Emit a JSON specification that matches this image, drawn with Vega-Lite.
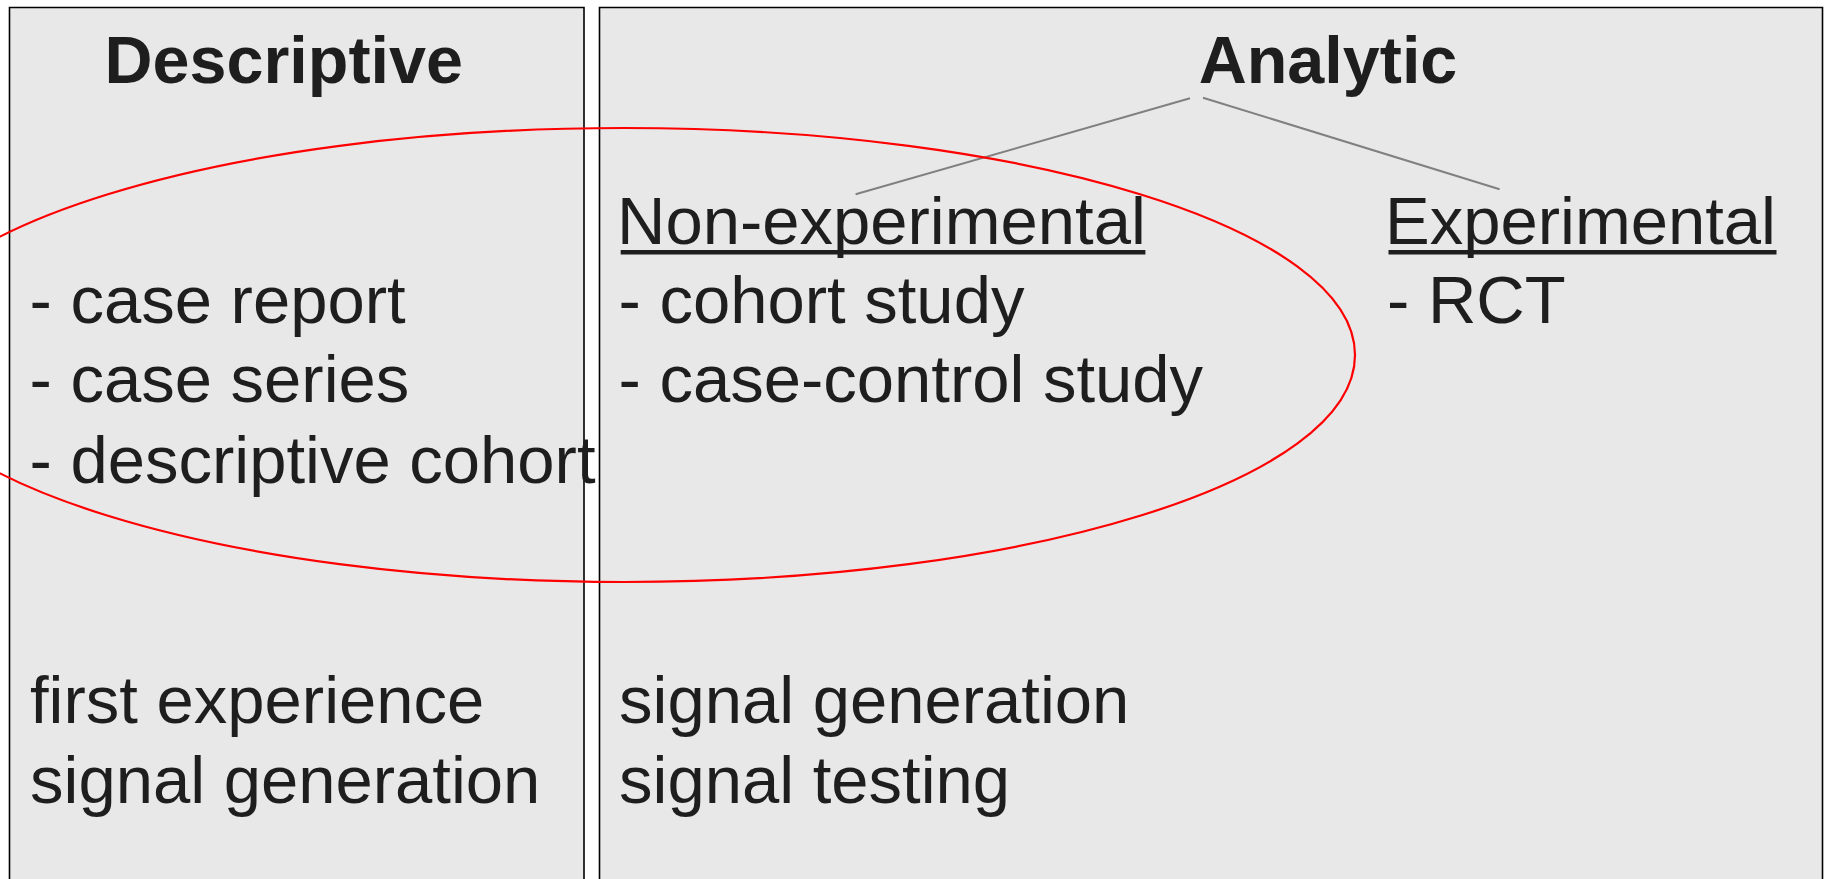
{
  "$schema": "https://vega.github.io/schema/vega-lite/v6.json",
  "width": 1833,
  "height": 879,
  "autosize": {"type": "none"},
  "padding": 0,
  "background": "white",
  "config": {"view": {"stroke": null}},
  "datasets": {
    "boxes": [
      {"x": 9.5, "x2": 584, "y": 7.5, "y2": 895},
      {"x": 599.5, "x2": 1822.5, "y": 7.5, "y2": 895}
    ],
    "ellipse": [{"x": 624, "y": 355}],
    "links": [
      {"x": 1190, "y": 98.3, "x2": 855.6, "y2": 194.3},
      {"x": 1203, "y": 97.7, "x2": 1499.6, "y2": 189.3}
    ],
    "underlines": [
      {"x": 620.7, "x2": 1145.4, "y": 252.3, "y2": 252.3},
      {"x": 1388.5, "x2": 1776.5, "y": 252.3, "y2": 252.3}
    ],
    "titles": [
      {"x": 283.7, "y": 83.3, "text": "Descriptive"},
      {"x": 1328, "y": 83.3, "text": "Analytic"}
    ],
    "labels": [
      {"x": 29.5, "y": 322.5, "text": "- case report"},
      {"x": 29.5, "y": 402, "text": "- case series"},
      {"x": 29.5, "y": 482.5, "text": "- descriptive cohort"},
      {"x": 30, "y": 723, "text": "first experience"},
      {"x": 30, "y": 803, "text": "signal generation"},
      {"x": 617, "y": 244.3, "text": "Non-experimental"},
      {"x": 618.5, "y": 322.5, "text": "- cohort study"},
      {"x": 618.5, "y": 402, "text": "- case-control study"},
      {"x": 619, "y": 723, "text": "signal generation"},
      {"x": 619, "y": 803, "text": "signal testing"},
      {"x": 1385, "y": 244.3, "text": "Experimental"},
      {"x": 1387, "y": 322.5, "text": "- RCT"}
    ]
  },
  "layer": [
    {
      "data": {"name": "boxes"},
      "mark": {"type": "rect", "fill": "#e8e8e8", "stroke": "#000000", "strokeWidth": 1.6, "clip": true},
      "encoding": {
        "x": {"field": "x", "type": "quantitative", "scale": {"domain": [0, 1833], "nice": false, "zero": false}, "axis": null},
        "x2": {"field": "x2"},
        "y": {"field": "y", "type": "quantitative", "scale": {"domain": [0, 879], "nice": false, "zero": false, "reverse": true}, "axis": null},
        "y2": {"field": "y2"}
      }
    },
    {
      "data": {"name": "links"},
      "mark": {"type": "rule", "stroke": "#808080", "strokeWidth": 2},
      "encoding": {
        "x": {"field": "x", "type": "quantitative", "axis": null},
        "x2": {"field": "x2"},
        "y": {"field": "y", "type": "quantitative", "axis": null},
        "y2": {"field": "y2"}
      }
    },
    {
      "data": {"name": "ellipse"},
      "mark": {
        "type": "point",
        "shape": "M -731 0 C -731 -125.4 -403.7 -227 0 -227 C 403.7 -227 731 -125.4 731 0 C 731 125.4 403.7 227 0 227 C -403.7 227 -731 125.4 -731 0 Z",
        "size": 4,
        "filled": false,
        "stroke": "#ff0000",
        "strokeWidth": 2.2,
        "opacity": 1,
        "clip": true
      },
      "encoding": {
        "x": {"field": "x", "type": "quantitative", "axis": null},
        "y": {"field": "y", "type": "quantitative", "axis": null}
      }
    },
    {
      "data": {"name": "underlines"},
      "mark": {"type": "rule", "stroke": "#1e1e1e", "strokeWidth": 4.5},
      "encoding": {
        "x": {"field": "x", "type": "quantitative", "axis": null},
        "x2": {"field": "x2"},
        "y": {"field": "y", "type": "quantitative", "axis": null},
        "y2": {"field": "y2"}
      }
    },
    {
      "data": {"name": "labels"},
      "mark": {"type": "text", "align": "left", "baseline": "alphabetic", "font": "Liberation Sans, Arial, Helvetica, sans-serif", "fontSize": 67, "fill": "#1e1e1e"},
      "encoding": {
        "x": {"field": "x", "type": "quantitative", "axis": null},
        "y": {"field": "y", "type": "quantitative", "axis": null},
        "text": {"field": "text"}
      }
    },
    {
      "data": {"name": "titles"},
      "mark": {"type": "text", "align": "center", "baseline": "alphabetic", "font": "Liberation Sans, Arial, Helvetica, sans-serif", "fontSize": 66.5, "fontWeight": "bold", "fill": "#1e1e1e"},
      "encoding": {
        "x": {"field": "x", "type": "quantitative", "axis": null},
        "y": {"field": "y", "type": "quantitative", "axis": null},
        "text": {"field": "text"}
      }
    }
  ]
}
